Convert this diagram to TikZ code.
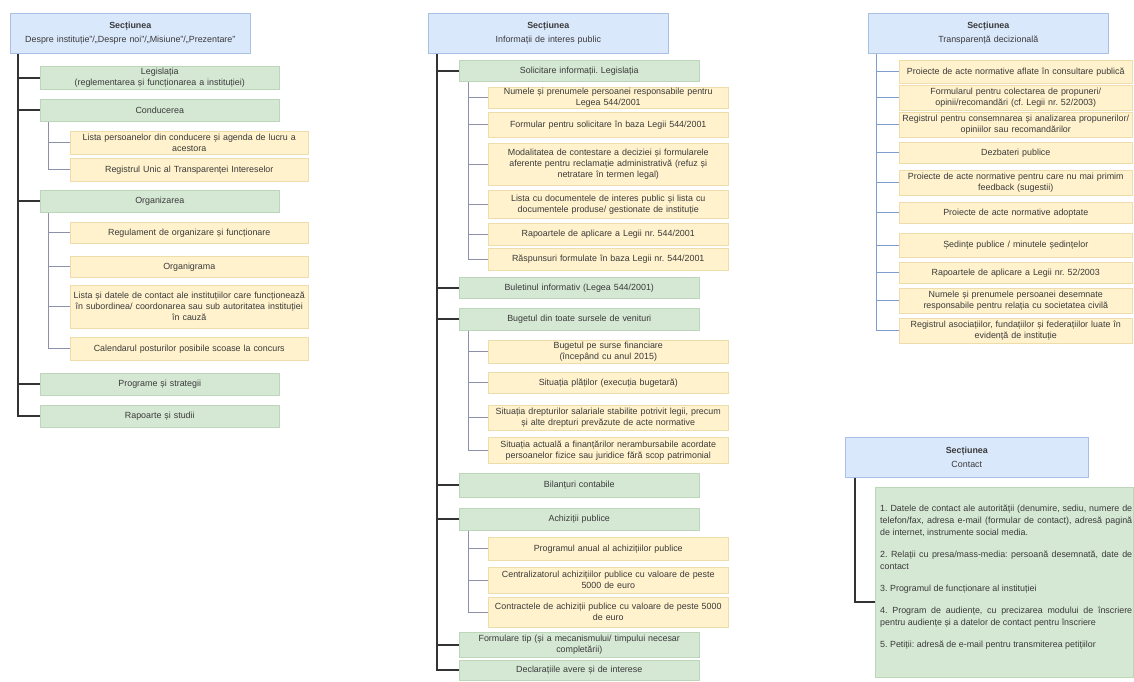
\documentclass[tikz,border=0pt]{standalone}
\usepackage{fontspec}
\setmainfont{Liberation Sans}
\frenchspacing
\hyphenpenalty=10000
\exhyphenpenalty=10000
\definecolor{hf}{HTML}{DAE8FC}
\definecolor{hb}{HTML}{A9C0E4}
\definecolor{gf}{HTML}{D5E8D4}
\definecolor{gb}{HTML}{BDD5B8}
\definecolor{yf}{HTML}{FFF2CC}
\definecolor{yb}{HTML}{EEDDAA}
\definecolor{tx}{HTML}{3A3A3A}
\definecolor{subc}{HTML}{8C90A8}
\definecolor{rtc}{HTML}{7F9CD0}
\tikzset{
  base/.style={inner xsep=2pt, inner ysep=0pt, align=center, font=\fontsize{8.9}{11}\selectfont, text=tx},
  hdr/.style={base, fill=hf, draw=hb, line width=0.6pt},
  grn/.style={base, fill=gf, draw=gb, line width=0.5pt},
  yel/.style={base, fill=yf, draw=yb, line width=0.5pt},
  trunk/.style={line width=1.6pt, draw=black!80},
  sub/.style={line width=0.6pt, draw=subc},
  rtrunk/.style={line width=0.7pt, draw=rtc},
}
\newcommand\mybox[7]{%
  \pgfmathsetmacro\bw{#5-#3}\pgfmathsetmacro\bh{#6-#4}\pgfmathsetmacro\tw{#5-#3-4}%
  \node[#1, anchor=north west, minimum width=\bw pt, minimum height=\bh pt, text width=\tw pt] (#2) at (#3,#4) {#7};}
\begin{document}
\begin{tikzpicture}[x=1pt,y=-1pt]
\useasboundingbox[fill=white] (0,0) rectangle (1134,681);
% ---------------- left column
\mybox{hdr}{hL}{10}{13}{250}{53}{{\bfseries Secțiunea}\\[3pt]Despre instituție"/„Despre noi"/„Misiune"/„Prezentare"}
\mybox{grn}{lLeg}{40}{66}{279}{89}{Legislația\\(reglementarea și funcționarea a instituției)}
\mybox{grn}{lCon}{40}{99}{279}{121}{Conducerea}
\mybox{yel}{cLis}{70}{131}{308}{154}{Lista persoanelor din conducere și agenda de lucru a\\acestora}
\mybox{yel}{cReg}{70}{158}{308}{181}{Registrul Unic al Transparenței Intereselor}
\mybox{grn}{lOrg}{40}{190}{279}{212}{Organizarea}
\mybox{yel}{cRegu}{70}{222}{308}{243}{Regulament de organizare și funcționare}
\mybox{yel}{cOrgan}{70}{256}{308}{277}{Organigrama}
\mybox{yel}{cListD}{70}{285}{308}{328}{Lista și datele de contact ale instituțiilor care funcționează\\în subordinea/ coordonarea sau sub autoritatea instituției\\în cauză}
\mybox{yel}{cCal}{70}{337}{308}{360}{Calendarul posturilor posibile scoase la concurs}
\mybox{grn}{lProg}{40}{373}{279}{395}{Programe și strategii}
\mybox{grn}{lRap}{40}{405}{279}{427}{Rapoarte și studii}
\coordinate (tL) at ([xshift=8pt]hL.south west);
\draw[trunk] (tL) |- (lRap.west);
\foreach \n in {lLeg,lCon,lOrg,lProg} \draw[trunk] (\n.west) -- (\n.west -| tL);
\coordinate (sCon) at ([xshift=8pt]lCon.south west);
\draw[sub] (sCon) |- (cReg.west);
\draw[sub] (cLis.west) -- (cLis.west -| sCon);
\coordinate (sOrg) at ([xshift=8pt]lOrg.south west);
\draw[sub] (sOrg) |- (cCal.west);
\foreach \n in {cRegu,cOrgan,cListD} \draw[sub] (\n.west) -- (\n.west -| sOrg);
% ---------------- middle column
\mybox{hdr}{hM}{428}{13}{668}{53}{{\bfseries Secțiunea}\\[3pt]Informații de interes public}
\mybox{grn}{mSol}{459}{60}{699}{81}{Solicitare informații. Legislația}
\mybox{yel}{m1}{488}{87}{728}{108}{Numele și prenumele persoanei responsabile pentru\\Legea 544/2001}
\mybox{yel}{m2}{488}{112}{728}{137}{Formular pentru solicitare în baza Legii 544/2001}
\mybox{yel}{m3}{488}{143}{728}{185}{Modalitatea de contestare a deciziei și formularele\\aferente pentru reclamație administrativă (refuz și\\netratare în termen legal)}
\mybox{yel}{m4}{488}{190}{728}{218}{Lista cu documentele de interes public și lista cu\\documentele produse/ gestionate de instituție}
\mybox{yel}{m5}{488}{223}{728}{245}{Rapoartele de aplicare a Legii nr. 544/2001}
\mybox{yel}{m6}{488}{248}{728}{270}{Răspunsuri formulate în baza Legii nr. 544/2001}
\mybox{grn}{mBul}{459}{277}{699}{298}{Buletinul informativ (Legea 544/2001)}
\mybox{grn}{mBug}{459}{308}{699}{330}{Bugetul din toate sursele de venituri}
\mybox{yel}{b1}{488}{340}{728}{363}{Bugetul pe surse financiare\\(începând cu anul 2015)}
\mybox{yel}{b2}{488}{372}{728}{393}{Situația plăților (execuția bugetară)}
\mybox{yel}{b3}{488}{405}{728}{430}{Situația drepturilor salariale stabilite potrivit legii, precum\\și alte drepturi prevăzute de acte normative}
\mybox{yel}{b4}{488}{437}{728}{463}{Situația actuală a finanțărilor nerambursabile acordate\\persoanelor fizice sau juridice fără scop patrimonial}
\mybox{grn}{mBil}{459}{473}{699}{497}{Bilanțuri contabile}
\mybox{grn}{mAch}{459}{508}{699}{530}{Achiziții publice}
\mybox{yel}{a1}{488}{537}{728}{560}{Programul anual al achizițiilor publice}
\mybox{yel}{a2}{488}{567}{728}{593}{Centralizatorul achizițiilor publice cu valoare de peste\\5000 de euro}
\mybox{yel}{a3}{488}{597}{728}{627}{Contractele de achiziții publice cu valoare de peste 5000\\de euro}
\mybox{grn}{mForm}{459}{632}{699}{657}{Formulare tip (și a mecanismului/ timpului necesar\\completării)}
\mybox{grn}{mDecl}{459}{660}{699}{680}{Declarațiile avere și de interese}
\coordinate (tM) at ([xshift=9pt]hM.south west);
\draw[trunk] (tM) |- (mDecl.west);
\foreach \n in {mSol,mBul,mBug,mBil,mAch,mForm} \draw[trunk] (\n.west) -- (\n.west -| tM);
\coordinate (sSol) at ([xshift=9pt]mSol.south west);
\draw[sub] (sSol) |- (m6.west);
\foreach \n in {m1,m2,m3,m4,m5} \draw[sub] (\n.west) -- (\n.west -| sSol);
\coordinate (sBug) at ([xshift=9pt]mBug.south west);
\draw[sub] (sBug) |- (b4.west);
\foreach \n in {b1,b2,b3} \draw[sub] (\n.west) -- (\n.west -| sBug);
\coordinate (sAch) at ([xshift=9pt]mAch.south west);
\draw[sub] (sAch) |- (a3.west);
\foreach \n in {a1,a2} \draw[sub] (\n.west) -- (\n.west -| sAch);
% ---------------- right column
\mybox{hdr}{hR}{868}{13}{1108}{53}{{\bfseries Secțiunea}\\[3pt]Transparență decizională}
\mybox{yel}{r1}{899}{60}{1132}{83}{Proiecte de acte normative aflate în consultare publică}
\mybox{yel}{r2}{899}{85}{1132}{110}{Formularul pentru colectarea de propuneri/\\opinii/recomandări (cf. Legii nr. 52/2003)}
\mybox{yel}{r3}{899}{112}{1132}{137}{Registrul pentru consemnarea și analizarea propunerilor/\\opiniilor sau recomandărilor}
\mybox{yel}{r4}{899}{142}{1132}{163}{Dezbateri publice}
\mybox{yel}{r5}{899}{170}{1132}{195}{Proiecte de acte normative pentru care nu mai primim\\feedback (sugestii)}
\mybox{yel}{r6}{899}{202}{1132}{223}{Proiecte de acte normative adoptate}
\mybox{yel}{r7}{899}{233}{1132}{257}{Ședințe publice / minutele ședințelor}
\mybox{yel}{r8}{899}{262}{1132}{283}{Rapoartele de aplicare a Legii nr. 52/2003}
\mybox{yel}{r9}{899}{288}{1132}{313}{Numele și prenumele persoanei desemnate\\responsabile pentru relația cu societatea civilă}
\mybox{yel}{r10}{899}{318}{1132}{343}{Registrul asociațiilor, fundațiilor și federațiilor luate în\\evidență de instituție}
\coordinate (tR) at ([xshift=8pt]hR.south west);
\draw[rtrunk] (tR) |- (r10.west);
\foreach \n in {r1,r2,r3,r4,r5,r6,r7,r8,r9} \draw[rtrunk] (\n.west) -- (\n.west -| tR);
% ---------------- contact
\mybox{hdr}{hC}{845}{437}{1088}{477}{{\bfseries Secțiunea}\\[3pt]Contact}
\mybox{grn}{cBox}{875}{487}{1133}{677}{}
\node[base, align=justify, anchor=north west, text width=252pt, font=\fontsize{8.9}{12}\selectfont] (cText) at ([xshift=3pt,yshift=-18pt]cBox.north west) {%
1. Datele de contact ale autorității (denumire, sediu, numere de telefon/fax, adresa e-mail (formular de contact), adresă pagină de internet, instrumente social media.\\[10pt]
2. Relații cu presa/mass-media: persoană desemnată, date de contact\\[10pt]
3. Programul de funcționare al instituției\\[10pt]
4. Program de audiențe, cu precizarea modului de înscriere pentru audiențe și a datelor de contact pentru înscriere\\[10pt]
5. Petiții: adresă de e-mail pentru transmiterea petițiilor};
\coordinate (tC) at ([xshift=10pt]hC.south west);
\draw[trunk] (tC) |- ([yshift=-20pt]cBox.west);
\end{tikzpicture}
\end{document}
